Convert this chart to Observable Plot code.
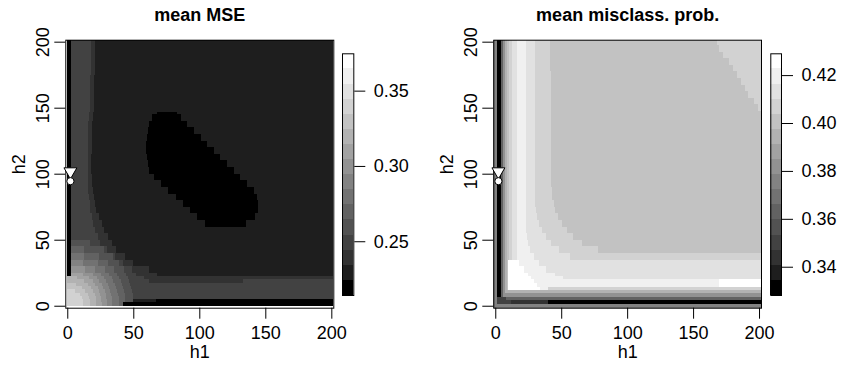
<!DOCTYPE html>
<html><head><meta charset="utf-8">
<script src="https://cdn.jsdelivr.net/npm/d3@7"></script>
<script src="https://cdn.jsdelivr.net/npm/@observablehq/plot@0.6"></script>
<style>
html,body{margin:0;padding:0;background:#fff;}
#chart{position:relative;width:847px;height:368px;overflow:hidden;}
#chart svg{position:absolute;left:0;top:0;}
</style></head><body><div id="chart"></div>
<script>
// ---- data ----
const H1_TICKS = [0, 50, 100, 150, 200];
const H2_TICKS = [0, 50, 100, 150, 200];
const MSE_TICKS = [0.25, 0.30, 0.35];
const MIS_TICKS = [0.34, 0.36, 0.38, 0.40, 0.42];
const MSE_RANGE = [0.2143, 0.3748];
const MIS_RANGE = [0.3282, 0.4291];
const GRAYS = ["#000000","#1e1e1e","#323232","#424242","#525252","#626262","#727272","#828282",
               "#929292","#a2a2a2","#b2b2b2","#c2c2c2","#d2d2d2","#e1e1e1","#f0f0f0","#ffffff"];
// optimum markers (h1, h2)
const MARK_TRI = [{h1: 2, h2: 102}];
const MARK_DOT = [{h1: 2, h2: 94.7}];
// rows: [h2 from, h2 to, "band@h1end ..."] (band = colour level of the value)
const MSE_START = -0.5;
const MSE_ROWS = [
  [175, 201.5, "0@3 3@18 2@21 1@201.5"],
  [146.5, 175, "0@3 3@17 2@20 1@201.5"],
  [145, 146.5, "0@3 3@16.5 2@19.5 1@68 0@83 1@201.5"],
  [140, 145, "0@3 3@16.5 2@19.5 1@64.5 0@86 1@201.5"],
  [135, 140, "0@3 3@16 2@19 1@62 0@91 1@201.5"],
  [130, 135, "0@3 3@16 2@19 1@61 0@96 1@201.5"],
  [125, 130, "0@3 3@16 2@19 1@60.3 0@101 1@201.5"],
  [120, 125, "0@3 3@16 2@18.5 1@60 0@106 1@201.5"],
  [115, 120, "0@3 3@16 2@18.5 1@60 0@111 1@201.5"],
  [110, 115, "0@3 3@15.5 2@18 1@60.3 0@116 1@201.5"],
  [105, 110, "0@3 3@15.5 2@18 1@61 0@121 1@201.5"],
  [100, 105, "0@3 3@15.5 2@18 1@62 0@126 1@201.5"],
  [95, 100, "0@3 3@15.5 2@18.5 1@65.7 0@131 1@201.5"],
  [90, 95, "0@3 3@16 2@19 1@71 0@136 1@201.5"],
  [85, 90, "0@3 3@16 2@19.5 1@76.5 0@141.5 1@201.5"],
  [80, 85, "0@3 3@16.5 2@20 1@82 0@144 1@201.5"],
  [75, 80, "0@3 3@17 2@21 1@87.5 0@144.7 1@201.5"],
  [70, 75, "0@3 3@17.5 2@22 1@93 0@144.5 1@201.5"],
  [65, 70, "0@3 3@18.5 2@24 1@98.5 0@142.5 1@201.5"],
  [59.5, 65, "0@3 3@19.5 2@26 1@104 0@135 1@201.5"],
  [55, 59.5, "0@3 3@21 2@28 1@201.5"],
  [50, 55, "0@3 3@23 2@31 1@201.5"],
  [45, 50, "0@3 4@17.3 3@25 2@34 1@201.5"],
  [40, 45, "0@3 5@13 4@28 3@30 2@37 1@201.5"],
  [35, 40, "0@3 6@12.4 5@24.4 4@34.3 3@36 2@44 1@201.5"],
  [30, 35, "0@3 7@11.7 6@23 5@30.9 4@39.1 3@42 2@50 1@201.5"],
  [25, 30, "0@3 8@13.6 7@21.3 6@28.8 5@35.4 4@42.7 3@49 2@62 1@201.5"],
  [22.5, 25, "0@3 9@12.1 8@19.6 7@25.5 6@31.9 5@37.9 4@44.8 3@52 2@68 1@201.5"],
  [20, 22.5, "10@7.4 9@16.3 8@22.3 7@27.6 6@33.6 5@39.3 4@46 3@58 2@201.5"],
  [17.5, 20, "10@12.9 9@19.2 8@24.4 7@29.3 6@35 5@40.5 4@47 3@62 2@133 3@201.5"],
  [15, 17.5, "11@6.7 10@16 9@21.3 8@26.1 7@30.7 6@36.1 5@41.5 4@47.8 3@201.5"],
  [12.5, 15, "11@11.3 10@18.2 9@22.9 8@27.4 7@31.8 6@37.1 5@42.3 4@48.5 3@201.5"],
  [10, 12.5, "12@5.8 11@13.8 10@19.7 9@24.1 8@28.4 7@32.6 6@37.8 5@43 4@49.1 3@201.5"],
  [7.5, 10, "12@9.4 11@15.4 10@20.8 9@25 8@29.2 7@33.3 6@38.4 5@43.5 4@49.5 3@201.5"],
  [5, 7.5, "12@11.1 11@16.4 10@21.5 9@25.6 8@29.7 7@33.7 6@38.8 5@43.8 4@49.8 3@201.5"],
  [2.5, 5, "12@11.8 11@16.9 10@21.9 9@25.9 8@29.9 7@34 6@39 5@44 4@50 1@67 0@201.5"],
  [-0.5, 2.5, "12@12 11@17 10@22 9@26 8@30 7@34 6@39 5@42 0@201.5"]
];
const MIS_START = -1.5;
const MIS_ROWS = [
  [197.5, 201.5, "7@1 0@4 5@5.6 8@7.2 10@8.7 11@10.7 12@12.5 13@16.3 14@23.5 13@30.5 12@41.5 11@168.5 12@201.5"],
  [192.5, 197.5, "7@1 0@4 5@5.6 8@7.2 10@8.7 11@10.7 12@12.5 13@16.3 14@23.5 13@30.5 12@41.5 11@170 12@201.5"],
  [187.5, 192.5, "7@1 0@4 5@5.6 8@7.2 10@8.7 11@10.7 12@12.5 13@16.3 14@23.5 13@30.5 12@41.5 11@172.5 12@201.5"],
  [182.5, 187.5, "7@1 0@4 5@5.6 8@7.2 10@8.7 11@10.7 12@12.5 13@16.3 14@23.5 13@30.5 12@41.5 11@177 12@201.5"],
  [177.5, 182.5, "7@1 0@4 5@5.6 8@7.2 10@8.7 11@10.7 12@12.5 13@16.3 14@23.5 13@30.5 12@41.5 11@180 12@201.5"],
  [172.5, 177.5, "7@1 0@4 5@5.6 8@7.2 10@8.7 11@10.7 12@12.5 13@16.3 14@23.5 13@30.5 12@42 11@183 12@201.5"],
  [167.5, 172.5, "7@1 0@4 5@5.6 8@7.2 10@8.7 11@10.7 12@12.5 13@16.3 14@23.5 13@30.5 12@42 11@186 12@201.5"],
  [162.5, 167.5, "7@1 0@4 5@5.6 8@7.2 10@8.7 11@10.7 12@12.5 13@16.3 14@23.5 13@30.5 12@42 11@189 12@201.5"],
  [157.5, 162.5, "7@1 0@4 5@5.6 8@7.2 10@8.7 11@10.7 12@12.5 13@16.3 14@23.5 13@30.5 12@42 11@192 12@201.5"],
  [152.5, 157.5, "7@1 0@4 5@5.6 8@7.2 10@8.7 11@10.7 12@12.5 13@16.3 14@23.5 13@30.5 12@42 11@196 12@201.5"],
  [147.5, 152.5, "7@1 0@4 5@5.6 8@7.2 10@8.7 11@10.7 12@12.5 13@16.3 14@23.5 13@30.5 12@42 11@199.5 12@201.5"],
  [90, 147.5, "7@1 0@4 5@5.6 8@7.2 10@8.7 11@10.7 12@12.5 13@16.3 14@23.5 13@30.5 12@42 11@201.5"],
  [85, 90, "7@1 0@4 5@5.6 8@7.2 10@8.7 11@10.7 12@12.5 13@16.3 14@23.5 13@30.5 12@43 11@201.5"],
  [80, 85, "7@1 0@4 5@5.6 8@7.2 10@8.7 11@10.7 12@12.5 13@16.3 14@23.5 13@30.5 12@43.3 11@201.5"],
  [75, 80, "7@1 0@4 5@5.6 8@7.2 10@8.7 11@10.7 12@12.5 13@16.3 14@23.5 13@30.5 12@44.2 11@201.5"],
  [70, 75, "7@1 0@4 5@5.6 8@7.2 10@8.7 11@10.7 12@12.5 13@16.3 14@23.5 13@30.8 12@45.6 11@201.5"],
  [65, 70, "7@1 0@4 5@5.6 8@7.2 10@8.7 11@10.7 12@12.5 13@16.3 14@23.5 13@31.8 12@47.7 11@201.5"],
  [60, 65, "7@1 0@4 5@5.6 8@7.2 10@8.7 11@10.7 12@12.5 13@16.3 14@23.5 13@33.3 12@50.5 11@201.5"],
  [55, 60, "7@1 0@4 5@5.6 8@7.2 10@8.7 11@10.7 12@12.5 13@16.3 14@23.5 13@35.5 12@54.2 11@201.5"],
  [50, 55, "7@1 0@4 5@5.6 8@7.2 10@8.7 11@10.7 12@12.5 13@16.3 14@23.8 13@38.5 12@59.2 11@201.5"],
  [45, 50, "7@1 0@4 5@5.6 8@7.2 10@8.7 11@10.7 12@12.5 13@16.3 14@24.8 13@42.6 12@66.1 11@201.5"],
  [40, 45, "7@1 0@4 5@5.6 8@7.2 10@8.7 11@10.7 12@12.5 13@16.3 14@26.5 13@48.2 12@78.2 11@201.5"],
  [35, 40, "7@1 0@4 5@5.6 8@7.2 10@8.7 11@10.7 12@12.5 13@16.3 14@29.1 13@56.6 12@201.5"],
  [30, 35, "7@1 0@4 5@5.6 8@7.2 10@8.7 11@9.8 15@17.8 14@32.9 13@201.5"],
  [25, 30, "7@1 0@4 5@5.6 8@7.2 10@8.7 11@9.8 15@22 14@38.5 13@201.5"],
  [22.5, 25, "7@1 0@4 5@5.6 8@7.2 10@8.7 11@9.8 15@25.1 14@45 13@201.5"],
  [20.5, 22.5, "7@1 0@4 5@5.6 8@7.2 10@8.7 11@9.8 15@27 14@51.5 13@201.5"],
  [17.5, 20.5, "7@1 0@4 5@5.6 8@7.2 10@8.7 11@9.8 15@29.1 14@170 15@201.5"],
  [14.3, 17.5, "7@1 0@4 5@5.6 8@7.2 10@8.7 11@9.8 15@31.7 14@170 15@201.5"],
  [11.8, 14.3, "7@1 0@4 5@5.6 8@7.2 10@8.7 11@9.8 15@34 14@40 12@201.5"],
  [9.3, 11.8, "7@1 0@4 5@5.6 8@7.2 10@201.5"],
  [6.8, 9.3, "7@1 0@4 5@5.6 8@201.5"],
  [4.3, 6.8, "7@1 3@8 5@201.5"],
  [1.3, 4.3, "7@1 3@12 2@40 0@201.5"],
  [-1.5, 1.3, "7@201.5"]
];

// ---- rendering ----
const W = 847, H = 368;
const FONT = "'Liberation Sans', Arial, Helvetica, sans-serif";
const DOMAIN = [-1.5, 201.5];
const TOP = 39.7, BOTTOM = 307.7;

function buildCells(rows, start, range) {
  const step = (range[1] - range[0]) / GRAYS.length;
  const cells = [];
  for (const [y1, y2, runs] of rows) {
    let x = start;
    for (const tok of runs.trim().split(/\s+/)) {
      const [b, e] = tok.split("@").map(Number);
      cells.push({x1: x, x2: e, y1, y2, v: range[0] + (b + 0.5) * step});
      x = e;
    }
  }
  return cells;
}
function colorScale(range) {
  const step = (range[1] - range[0]) / GRAYS.length;
  return {type: "threshold", domain: GRAYS.slice(1).map((_, i) => range[0] + (i + 1) * step), range: GRAYS};
}

function panel({left, right, rows, start, range, title}) {
  return Plot.plot({
    width: W, height: H,
    marginLeft: left, marginRight: W - right, marginTop: TOP, marginBottom: H - BOTTOM,
    x: {domain: DOMAIN}, y: {domain: DOMAIN},
    color: colorScale(range),
    style: {background: "transparent", fontFamily: FONT, fontSize: "18px"},
    marks: [
      Plot.rect(buildCells(rows, start, range), {x1: "x1", x2: "x2", y1: "y1", y2: "y2", fill: "v", shapeRendering: "crispEdges"}),
      Plot.frame({stroke: "black"}),
      Plot.axisX(H1_TICKS, {tickSize: 11, tickPadding: 7, fontSize: 18, label: null}),
      Plot.axisY(H2_TICKS, {tickSize: 11, tickPadding: 6, tickRotate: -90, fontSize: 18, label: null}),
      Plot.text(["h1"], {text: d => d, frameAnchor: "bottom", dy: 50, lineAnchor: "bottom", fontSize: 18}),
      Plot.text(["h2"], {text: d => d, frameAnchor: "left", dx: -40.5, rotate: -90, lineAnchor: "bottom", fontSize: 18}),
      Plot.text([title], {text: d => d, frameAnchor: "top", dy: -19.5, lineAnchor: "bottom", fontSize: 18, fontWeight: "bold"}),
      Plot.dot(MARK_TRI, {x: "h1", y: "h2", symbol: "triangle", rotate: 180, r: 4.8, fill: "white", stroke: "black", strokeWidth: 1}),
      Plot.dot(MARK_DOT, {x: "h1", y: "h2", r: 3.6, fill: "white", stroke: "black", strokeWidth: 1})
    ]
  });
}

function colorbar({left, right, range, ticks}) {
  const step = (range[1] - range[0]) / GRAYS.length;
  const bands = GRAYS.map((g, i) => ({lo: range[0] + i * step, hi: range[0] + (i + 1) * step, v: range[0] + (i + 0.5) * step}));
  return Plot.plot({
    width: W, height: H,
    marginLeft: left, marginRight: W - right, marginTop: 53.3, marginBottom: H - 295,
    x: {domain: [0, 1], axis: null}, y: {domain: range},
    color: colorScale(range),
    style: {background: "transparent", fontFamily: FONT, fontSize: "18px"},
    marks: [
      Plot.rect(bands, {x1: 0, x2: 1, y1: "lo", y2: "hi", fill: "v", shapeRendering: "crispEdges"}),
      Plot.frame({stroke: "black"}),
      Plot.axisY(ticks, {anchor: "right", tickSize: 11, tickPadding: 9, tickFormat: d3.format(".2f"), fontSize: 18, label: null})
    ]
  });
}

const root = document.getElementById("chart");
root.append(panel({left: 65.3, right: 333.3, rows: MSE_ROWS, start: MSE_START, range: MSE_RANGE, title: "mean MSE"}));
root.append(colorbar({left: 342, right: 353.3, range: MSE_RANGE, ticks: MSE_TICKS}));
root.append(panel({left: 493.3, right: 761, rows: MIS_ROWS, start: MIS_START, range: MIS_RANGE, title: "mean misclass. prob."}));
root.append(colorbar({left: 770.3, right: 781, range: MIS_RANGE, ticks: MIS_TICKS}));
</script></body></html>
